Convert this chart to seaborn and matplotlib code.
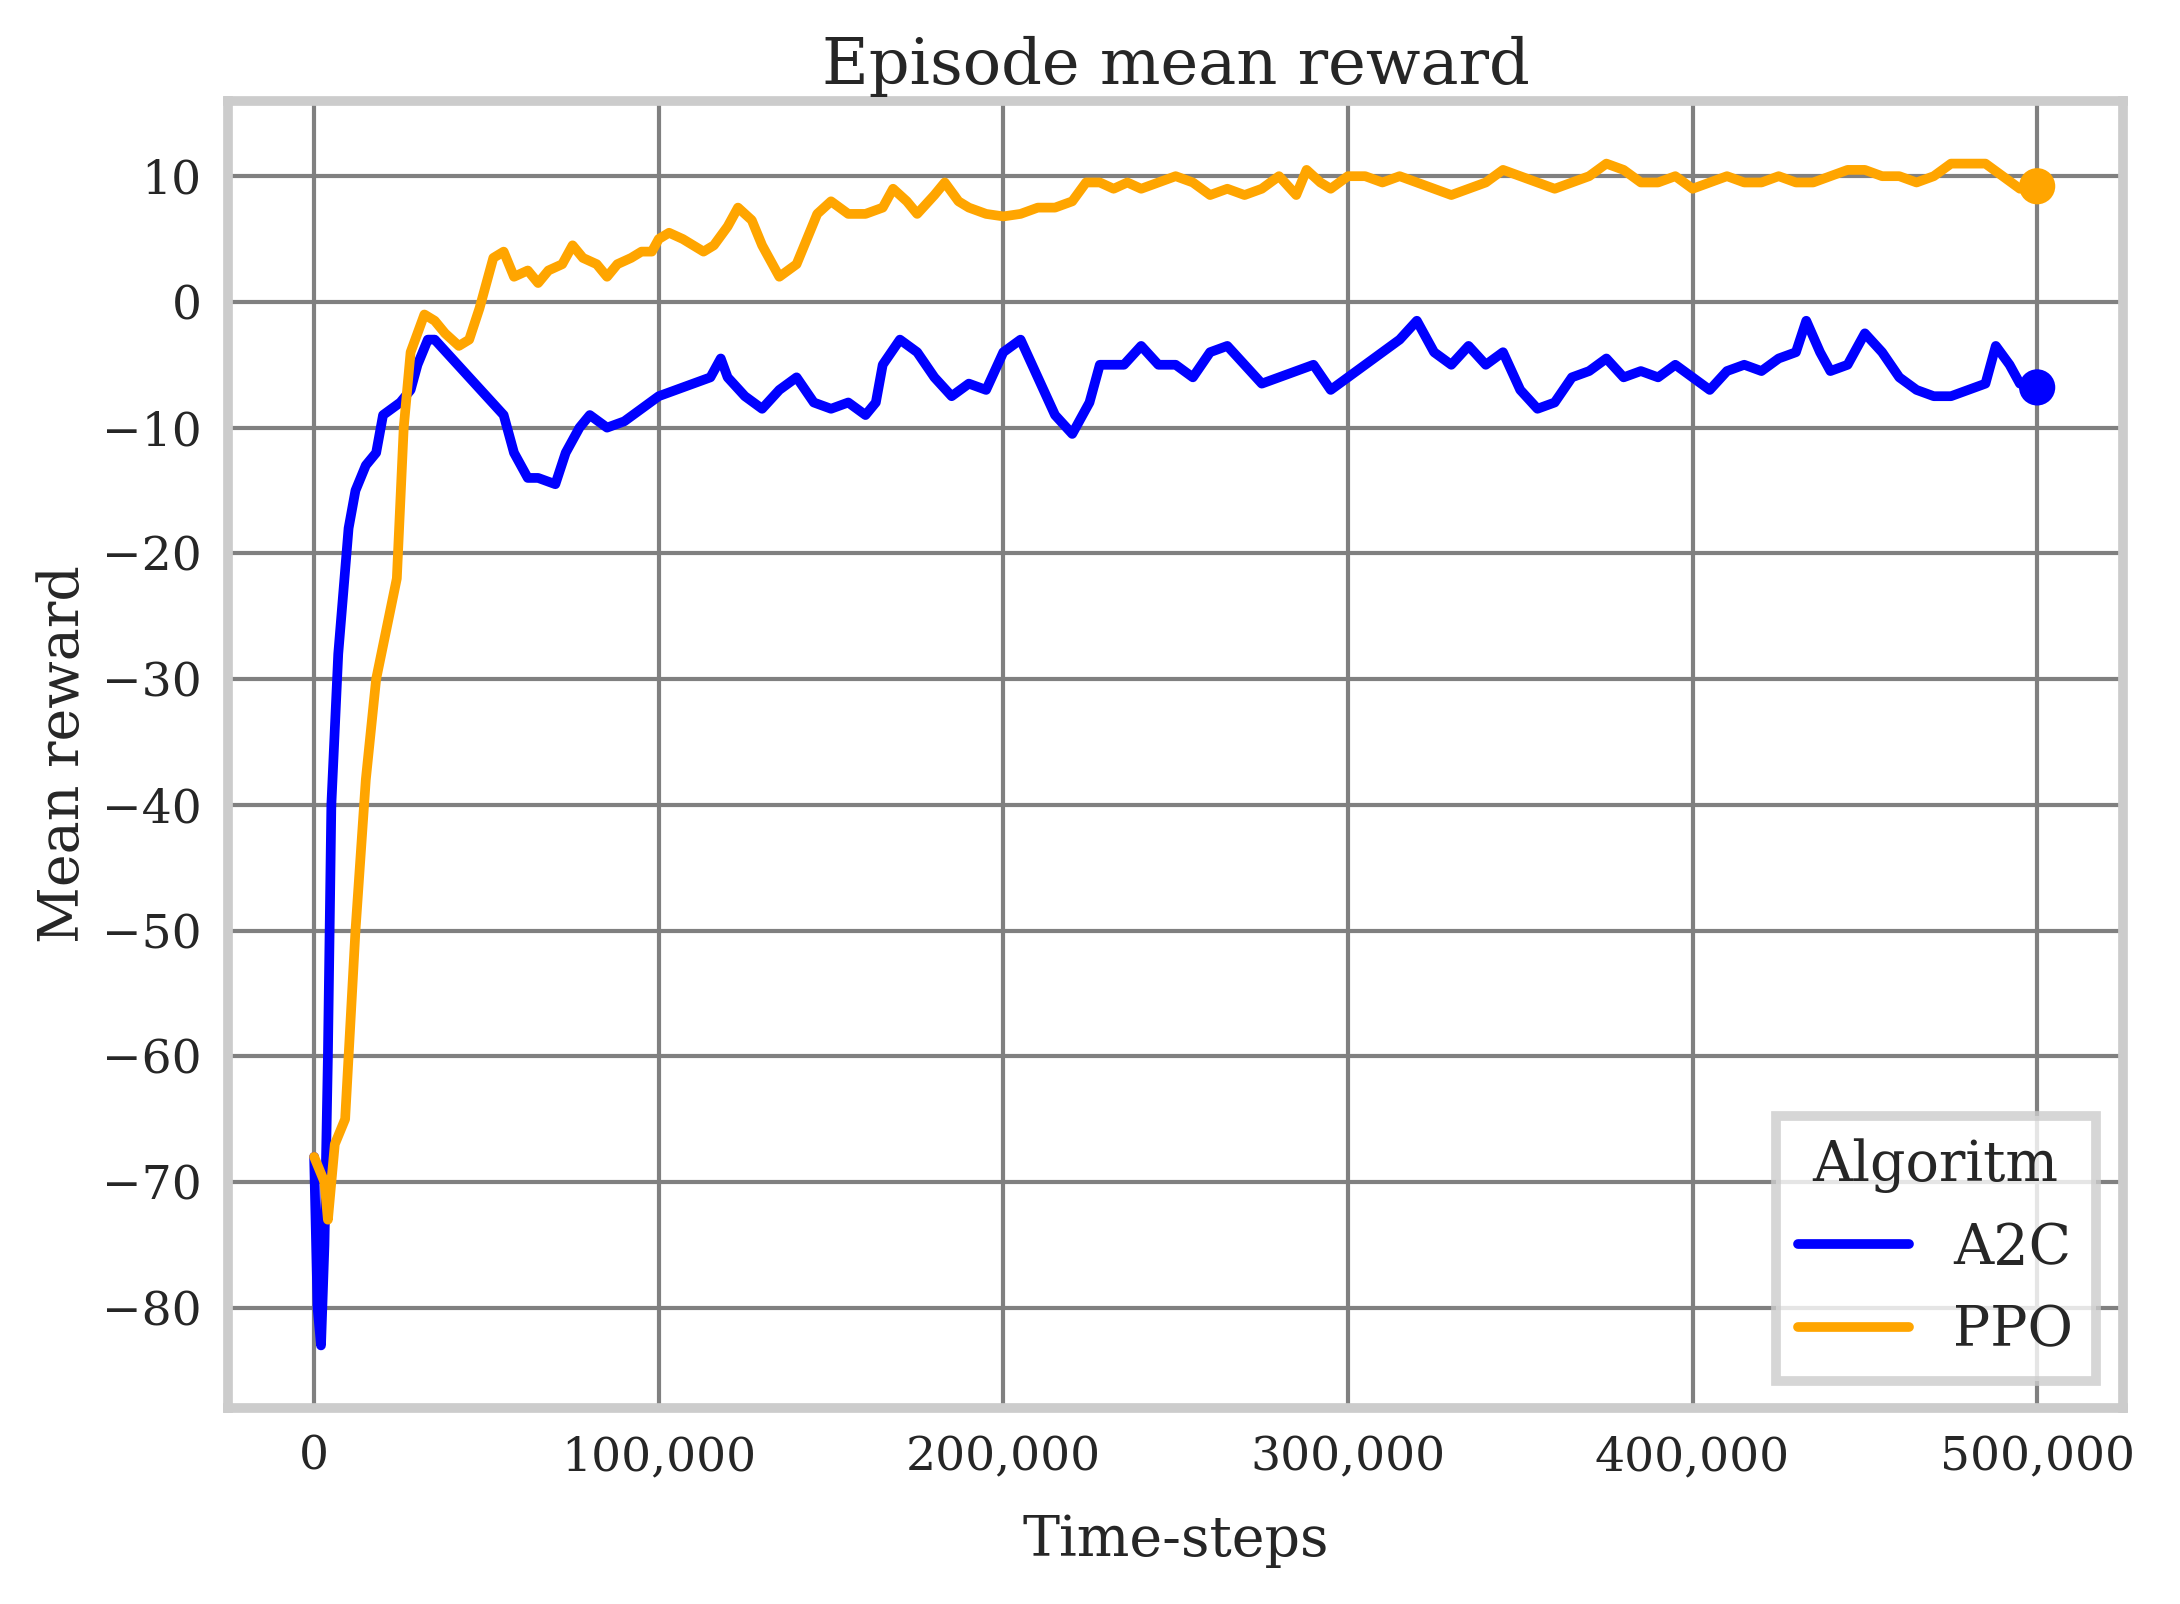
import seaborn as sns
import matplotlib.pyplot as plt
import pandas as pd
from matplotlib.ticker import FuncFormatter

a2c_steps = [0, 1000, 2000, 3000, 4000, 5000, 7000, 10000, 12000, 15000, 18000, 20000, 25000, 28000,
             30000, 33000, 35000, 40000, 45000, 50000, 55000, 58000, 62000, 65000, 70000, 73000, 77000,
             80000, 85000, 90000, 95000, 100000, 105000, 110000, 115000, 118000, 120000, 125000, 130000,
             135000, 140000, 145000, 150000, 155000, 160000, 163000, 165000, 170000, 175000, 180000,
             185000, 190000, 195000, 200000, 205000, 210000, 215000, 220000, 225000, 228000, 235000,
             240000, 245000, 250000, 255000, 260000, 265000, 270000, 275000, 280000, 285000, 290000,
             295000, 300000, 305000, 310000, 315000, 320000, 325000, 330000, 335000, 340000, 345000,
             350000, 355000, 360000, 365000, 370000, 375000, 380000, 385000, 390000, 395000, 400000,
             405000, 410000, 415000, 420000, 425000, 430000, 433000, 437000, 440000, 445000, 450000,
             455000, 460000, 465000, 470000, 475000, 480000, 485000, 488000, 492000, 495000, 500000]
a2c_reward = [-68, -80, -83, -75, -60, -40, -28, -18, -15, -13, -12, -9, -8, -7,
              -5, -3, -3, -4.5, -6, -7.5, -9, -12, -14, -14, -14.5, -12, -10,
              -9, -10, -9.5, -8.5, -7.5, -7, -6.5, -6, -4.5, -6, -7.5, -8.5,
              -7, -6, -8, -8.5, -8, -9, -8, -5, -3, -4, -6,
              -7.5, -6.5, -7, -4, -3, -6, -9, -10.5, -8, -5, -5,
              -3.5, -5, -5, -6, -4, -3.5, -5, -6.5, -6, -5.5, -5,
              -7, -6, -5, -4, -3, -1.5, -4, -5, -3.5, -5, -4,
              -7, -8.5, -8, -6, -5.5, -4.5, -6, -5.5, -6, -5, -6,
              -7, -5.5, -5, -5.5, -4.5, -4, -1.5, -4, -5.5, -5, -2.5,
              -4, -6, -7, -7.5, -7.5, -7, -6.5, -3.5, -5, -6.5, -6.8]

ppo_steps = [0, 3000, 4000, 6000, 9000, 12000, 15000, 18000, 21000, 24000, 26000, 28000, 32000, 35000,
             38000, 42000, 45000, 48000, 52000, 55000, 58000, 62000, 65000, 68000, 72000, 75000, 78000,
             82000, 85000, 88000, 92000, 95000, 98000, 100000, 103000, 107000, 110000, 113000, 116000,
             120000, 123000, 127000, 130000, 133000, 135000, 140000, 143000, 146000, 150000, 155000,
             160000, 165000, 168000, 172000, 175000, 180000, 183000, 187000, 190000, 195000, 200000,
             205000, 210000, 215000, 220000, 224000, 228000, 232000, 236000, 240000, 245000, 250000,
             255000, 260000, 265000, 270000, 275000, 280000, 285000, 288000, 292000, 295000, 300000,
             305000, 310000, 315000, 320000, 325000, 330000, 335000, 340000, 345000, 350000, 355000,
             360000, 365000, 370000, 375000, 380000, 385000, 390000, 395000, 400000, 405000, 410000,
             415000, 420000, 425000, 430000, 435000, 440000, 445000, 450000, 455000, 460000, 465000,
             470000, 475000, 480000, 485000, 490000, 495000, 500000]
ppo_reward = [-68, -70, -73, -67, -65, -50, -38, -30, -26, -22, -10, -4, -1, -1.5,
              -2.5, -3.5, -3, -0.5, 3.5, 4, 2, 2.5, 1.5, 2.5, 3, 4.5, 3.5,
              3, 2, 3, 3.5, 4, 4, 5, 5.5, 5, 4.5, 4, 4.5,
              6, 7.5, 6.5, 4.5, 3, 2, 3, 5, 7, 8, 7,
              7, 7.5, 9, 8, 7, 8.5, 9.5, 8, 7.5, 7, 6.8,
              7, 7.5, 7.5, 8, 9.5, 9.5, 9, 9.5, 9, 9.5, 10,
              9.5, 8.5, 9, 8.5, 9, 10, 8.5, 10.5, 9.5, 9, 10,
              10, 9.5, 10, 9.5, 9, 8.5, 9, 9.5, 10.5, 10, 9.5,
              9, 9.5, 10, 11, 10.5, 9.5, 9.5, 10, 9, 9.5, 10,
              9.5, 9.5, 10, 9.5, 9.5, 10, 10.5, 10.5, 10, 10, 9.5,
              10, 11, 11, 11, 10, 9, 9.2]

df = pd.concat([
    pd.DataFrame({"Time-steps": a2c_steps, "Mean reward": a2c_reward, "Algoritm": "A2C"}),
    pd.DataFrame({"Time-steps": ppo_steps, "Mean reward": ppo_reward, "Algoritm": "PPO"}),
])
palette = {"A2C": "#0000ff", "PPO": "#ffa500"}

sns.set_theme(style="whitegrid")
plt.rcParams['font.family'] = ['DejaVu Serif']
plt.rcParams['grid.color'] = '#808080'
plt.rcParams['grid.linewidth'] = 1.5

fig, ax = plt.subplots(figsize=(10.9, 8.02), dpi=200)
sns.lineplot(data=df, x="Time-steps", y="Mean reward", hue="Algoritm", palette=palette,
             linewidth=3.5, ax=ax)
last = df.groupby("Algoritm").tail(1)
sns.scatterplot(data=last, x="Time-steps", y="Mean reward", hue="Algoritm", palette=palette,
                s=170, edgecolor="none", legend=False, ax=ax, zorder=5)

for s in ax.spines.values():
    s.set_color('#cccccc')
    s.set_linewidth(3.5)
ax.xaxis.set_major_formatter(FuncFormatter(lambda v, p: f"{int(v):,}"))
ax.set_xlim(-25000, 525000)
ax.set_ylim(-88, 16)
ax.set_yticks(range(-80, 11, 10))
ax.tick_params(labelsize=17)
ax.set_title("Episode mean reward", fontsize=23)
ax.set_xlabel("Time-steps", fontsize=20, labelpad=12)
ax.set_ylabel("Mean reward", fontsize=20)
leg = ax.legend(title="Algoritm", loc="lower right", fontsize=20, title_fontsize=20,
                frameon=True, fancybox=False)
leg.get_frame().set_edgecolor('#cccccc')
leg.get_frame().set_linewidth(3.5)
for line in leg.get_lines():
    line.set_linewidth(3.5)

plt.tight_layout()
plt.savefig("out.png", dpi=200)
